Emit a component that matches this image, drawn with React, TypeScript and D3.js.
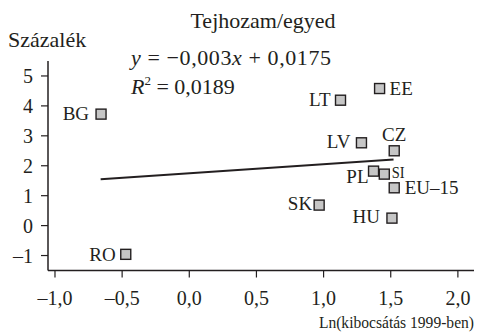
import React from "react";
import * as d3 from "d3";

const countries = ["BG", "RO", "LT", "EE", "LV", "CZ", "PL", "SI", "EU–15", "SK", "HU"];
const lnOutput = [-0.657, -0.473, 1.126, 1.417, 1.282, 1.526, 1.372, 1.452, 1.526, 0.967, 1.509];
const milkYield = [3.725, -0.96, 4.19, 4.58, 2.767, 2.5, 1.82, 1.72, 1.263, 0.685, 0.25];
const trendX = [-0.66, 1.521];
const trendY = [1.547, 2.21];
const xTicks = [-1, -0.5, 0, 0.5, 1, 1.5, 2];
const yTicks = [-1, 0, 1, 2, 3, 4, 5];

// label placement (dx, dy, anchor, size, horizontal squeeze) per country
const labelPos: Record<string, [number, number, string, number, number]> = {
  BG: [-12, 6, "end", 19, 1],
  RO: [-10, 7, "end", 19, 1],
  LT: [-10, 6, "end", 19, 1],
  EE: [10, 6, "start", 19, 1],
  LV: [-11, 5, "end", 19, 1],
  CZ: [0, -10, "middle", 19, 1],
  PL: [-5, 12, "end", 19, 1],
  SI: [7.5, 4, "start", 17, 0.85],
  "EU–15": [10.5, 6, "start", 19, 1],
  SK: [-7, 5, "end", 19, 1],
  HU: [-12, 5, "end", 19, 1],
};

const W = 477;
const H = 336;
const FONT = "'Liberation Serif', 'Times New Roman', serif";
const INK = "#231f20";

const fmt = (v: number) => {
  const s = v.toFixed(1).replace(".", ",");
  return v < 0 ? "–" + s.slice(1) : s;
};
const fmtY = (v: number) => (v < 0 ? "–" + String(-v) : String(v));

export default function App() {
  const x = d3.scaleLinear().domain([-1.052, 2.12]).range([48, 474]);
  const y = d3.scaleLinear().domain([-1.5, 5.5]).range([270.5, 61]);
  const line = d3
    .line<number>()
    .x((d) => x(trendX[d]))
    .y((d) => y(trendY[d]));
  const sq = 10;
  return (
    <svg
      width={W}
      height={H}
      style={{ position: "absolute", left: 0, top: 0, background: "#fff" }}
      fontFamily={FONT}
      fill={INK}
    >
      <text x={263} y={28} fontSize={22} textAnchor="middle">
        Tejhozam/egyed
      </text>
      <text x={8} y={47} fontSize={22}>
        Százalék
      </text>
      <text x={131} y={65} fontSize={22} textLength={200} lengthAdjust="spacing">
        <tspan fontStyle="italic">y</tspan> = −0,003<tspan fontStyle="italic">x</tspan> + 0,0175
      </text>
      <text x={131} y={94} fontSize={22}>
        <tspan fontStyle="italic">R</tspan>
        <tspan fontSize={13} dy={-9}>2</tspan>
        <tspan dy={9}> = 0,0189</tspan>
      </text>

      {/* axes */}
      <line x1={x.range()[0]} x2={x.range()[0]} y1={y.range()[1]} y2={y.range()[0]} stroke={INK} strokeWidth={1.5} />
      <line x1={x.range()[0]} x2={x.range()[1]} y1={y.range()[0]} y2={y.range()[0]} stroke={INK} strokeWidth={1.5} />
      {yTicks.map((t) => (
        <g key={"y" + t}>
          <line x1={x.range()[0] - 7} x2={x.range()[0]} y1={y(t)} y2={y(t)} stroke={INK} strokeWidth={1.2} />
          <text x={33} y={y(t) + 7} fontSize={20} textAnchor="end">
            {fmtY(t)}
          </text>
        </g>
      ))}
      {xTicks.map((t) => (
        <g key={"x" + t}>
          <line x1={x(t)} x2={x(t)} y1={y.range()[0]} y2={y.range()[0] + 7} stroke={INK} strokeWidth={1.2} />
          <text x={x(t)} y={305} fontSize={20} textAnchor="middle">
            {fmt(t)}
          </text>
        </g>
      ))}
      <text transform="translate(474,328) scale(0.89,1)" fontSize={17.5} textAnchor="end">
        Ln(kibocsátás 1999-ben)
      </text>

      <path d={line([0, 1]) || ""} stroke={INK} strokeWidth={2} fill="none" />

      {countries.map((c, i) => {
        const cx = x(lnOutput[i]);
        const cy = y(milkYield[i]);
        const [dx, dy, anchor, size, sx] = labelPos[c];
        return (
          <g key={c}>
            <rect x={cx - sq / 2} y={cy - sq / 2} width={sq} height={sq} fill="#c6c6c6" stroke={INK} strokeWidth={1.4} />
            <text
              transform={`translate(${cx + dx},${cy + dy}) scale(${sx},1)`}
              fontSize={size}
              textAnchor={anchor as any}
            >
              {c}
            </text>
          </g>
        );
      })}
    </svg>
  );
}
